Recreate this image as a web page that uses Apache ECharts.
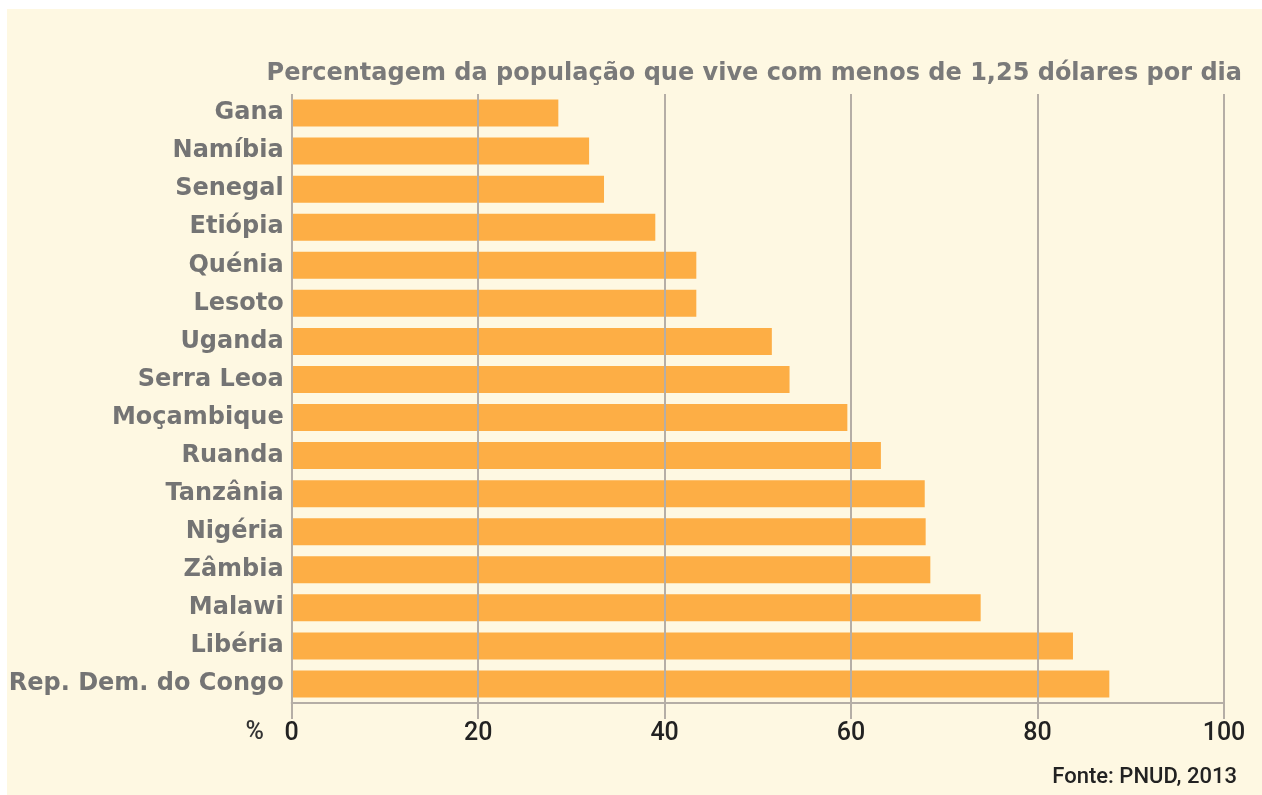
<!DOCTYPE html>
<html>
<head>
<meta charset="utf-8">
<script src="https://cdn.jsdelivr.net/npm/echarts@6/dist/echarts.min.js"></script>
<style>
html,body{margin:0;padding:0;background:#ffffff;}
#bg{position:absolute;left:7px;top:9px;width:1255px;height:786px;background:#FEF8E2;}
#chart{position:absolute;left:0;top:0;width:1262px;height:795px;}
</style>
</head>
<body>
<div id="bg"></div>
<div id="chart"></div>
<script>
const titleText = 'Percentagem da população que vive com menos de 1,25 dólares por dia';
const sourceText = 'Fonte: PNUD, 2013';
const unitLabel = '%';
const countries = ['Gana','Namíbia','Senegal','Etiópia','Quénia','Lesoto','Uganda','Serra Leoa','Moçambique','Ruanda','Tanzânia','Nigéria','Zâmbia','Malawi','Libéria','Rep. Dem. do Congo'];
const values = [28.6, 31.9, 33.5, 39.0, 43.4, 43.4, 51.5, 53.4, 59.6, 63.2, 67.9, 68.0, 68.5, 73.9, 83.8, 87.7];
const xTicks = [0, 20, 40, 60, 80, 100];

const chart = echarts.init(document.getElementById('chart'), null, {renderer: 'canvas'});
const gridLeft = 291.7, gridRight = 38, gridTop = 94, gridHeight = 609;
chart.setOption({
  backgroundColor: 'transparent',
  animation: false,
  title: {
    text: titleText,
    right: 15,
    top: 57,
    textStyle: {fontFamily: 'DejaVu Sans', fontWeight: 'bold', fontSize: 24, color: '#7a7a7a'}
  },
  grid: {left: gridLeft, right: gridRight, top: gridTop, height: gridHeight, containLabel: false},
  xAxis: {
    type: 'value',
    min: xTicks[0], max: xTicks[xTicks.length - 1], interval: 20,
    z: 5,
    axisLine: {show: true, lineStyle: {color: '#b5aea6', width: 2}},
    axisTick: {show: true, length: 16, lineStyle: {color: '#b5aea6', width: 2}},
    splitLine: {show: true, lineStyle: {color: '#b5aea6', width: 2}},
    axisLabel: {margin: 18, fontFamily: 'Roboto', fontWeight: 500, fontSize: 25, color: '#222222'}
  },
  yAxis: {
    type: 'category',
    data: countries,
    inverse: true,
    axisLine: {show: false},
    axisTick: {show: false},
    splitLine: {show: false},
    axisLabel: {margin: 8, fontFamily: 'DejaVu Sans', fontWeight: 'bold', fontSize: 24, color: '#747474'}
  },
  series: [{
    type: 'bar',
    data: values,
    barWidth: 27,
    itemStyle: {color: '#FDAE45'},
    z: 2
  }],
  graphic: [
    {type: 'text', right: 1262 - 264, top: 720, style: {text: unitLabel, font: '500 25px Roboto', fill: '#333333', textAlign: 'right'}},
    {type: 'text', right: 1262 - 1237, top: 766, style: {text: sourceText, font: '500 22px Roboto', fill: '#222222'}}
  ]
});
</script>
</body>
</html>
